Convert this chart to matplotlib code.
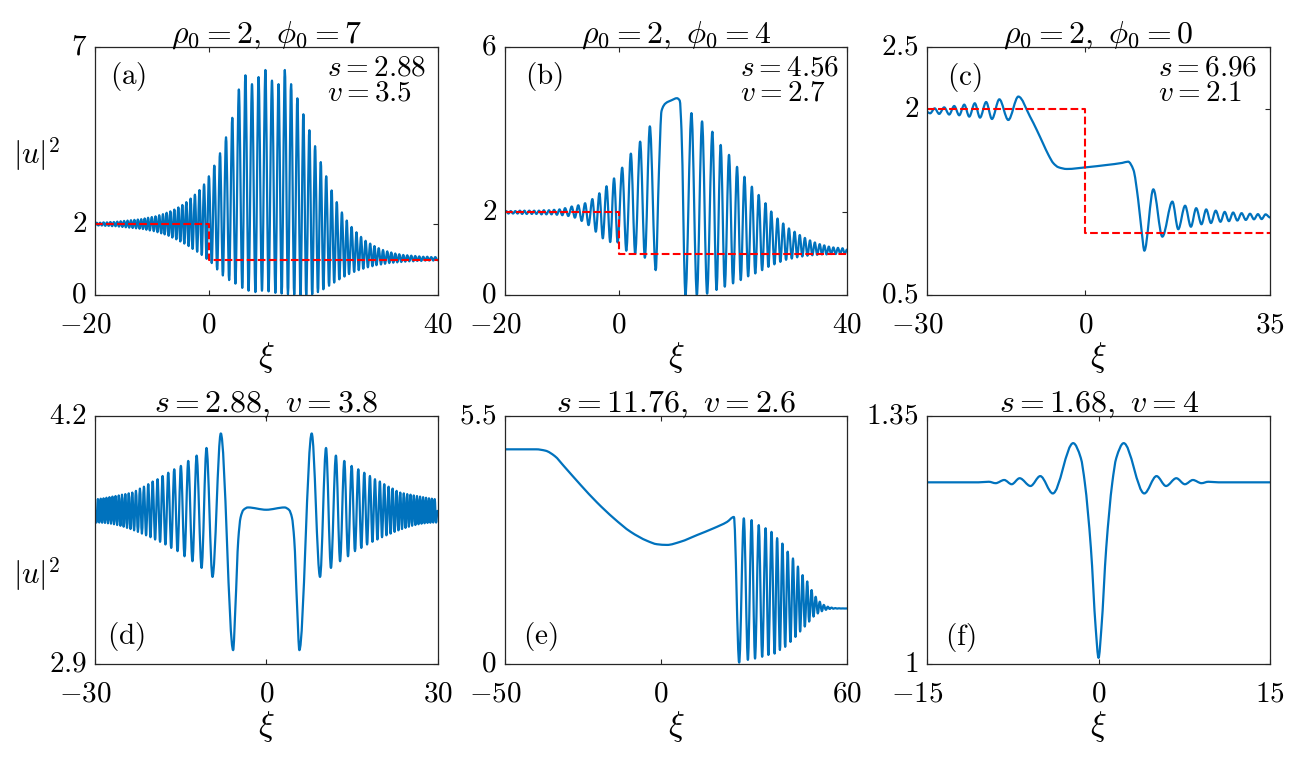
import numpy as np
import matplotlib
matplotlib.use('Agg')
import matplotlib.pyplot as plt
import matplotlib.transforms as mtransforms
from matplotlib.path import Path
from matplotlib.patches import PathPatch

plt.rcParams['mathtext.fontset'] = 'cm'
plt.rcParams['font.family'] = ['DejaVu Serif']

# ---- curve extrema / turning points (xi, |u|^2) ----
a_curve = np.array([
    (-20.0, 1.96), (-19.7, 2.04), (-19.4, 1.96), (-19.1, 2.04), (-18.8, 1.96), (-18.5, 2.05),
    (-18.2, 1.95), (-17.9, 2.05), (-17.6, 1.95), (-17.3, 2.06), (-17.0, 1.94), (-16.7, 2.06),
    (-16.4, 1.94), (-16.1, 2.07), (-15.8, 1.93), (-15.5, 2.08), (-15.2, 1.92), (-14.9, 2.09),
    (-14.6, 1.91), (-14.3, 2.10), (-14.0, 1.90), (-13.7, 2.11), (-13.4, 1.89), (-13.1, 2.12),
    (-12.8, 1.88), (-12.5, 2.13), (-12.2, 1.87), (-11.9, 2.14), (-11.6, 1.86), (-11.3, 2.16),
    (-11.0, 1.84), (-10.7, 2.18), (-10.4, 1.82), (-10.05, 2.20), (-9.7, 1.80), (-9.4, 2.22),
    (-9.05, 1.77), (-8.75, 2.25), (-8.4, 1.74), (-8.1, 2.28), (-7.8, 1.71), (-7.45, 2.32),
    (-7.1, 1.67), (-6.8, 2.36), (-6.45, 1.62), (-6.1, 2.41), (-5.75, 1.57), (-5.4, 2.47),
    (-5.05, 1.51), (-4.7, 2.54), (-4.35, 1.45), (-4.0, 2.62), (-3.6, 1.38), (-3.25, 2.72),
    (-2.9, 1.30), (-2.5, 2.83), (-2.1, 1.22), (-1.7, 2.96), (-1.3, 1.13), (-0.9, 3.12),
    (-0.45, 1.02), (-0.05, 3.35), (0.45, 0.90), (0.9, 3.65), (1.4, 0.72), (1.9, 4.0),
    (2.4, 0.55), (2.95, 4.45), (3.5, 0.42), (4.05, 5.0), (4.6, 0.32), (5.2, 5.8),
    (5.8, 0.20), (6.35, 6.2), (6.9, 0.12), (7.5, 5.95), (8.1, 0.08), (8.65, 6.15),
    (9.25, 0.12), (9.85, 6.35), (10.4, 0.10), (11.0, 6.05), (11.6, 0.06), (12.15, 5.95),
    (12.7, 0.04), (13.25, 6.35), (13.8, 0.02), (14.35, 5.95), (14.9, 0.01), (15.45, 5.55),
    (16.0, 0.0), (16.5, 5.1), (17.0, 0.0), (17.55, 4.65), (18.05, 0.02), (18.55, 4.2),
    (19.05, 0.08), (19.55, 3.75), (20.0, 0.16), (20.5, 3.35), (21.0, 0.26), (21.45, 2.95),
    (21.9, 0.35), (22.35, 2.62), (22.8, 0.44), (23.25, 2.33), (23.7, 0.52), (24.1, 2.10),
    (24.5, 0.59), (24.95, 1.92), (25.4, 0.65), (25.8, 1.77), (26.2, 0.70), (26.6, 1.64),
    (27.0, 0.74), (27.4, 1.53), (27.8, 0.78), (28.2, 1.45), (28.6, 0.81), (28.95, 1.38),
    (29.3, 0.84), (29.7, 1.32), (30.1, 0.86), (30.45, 1.27), (30.8, 0.88), (31.2, 1.23),
    (31.55, 0.90), (31.9, 1.20), (32.25, 0.91), (32.6, 1.17), (32.95, 0.92), (33.3, 1.15),
    (33.65, 0.93), (34.0, 1.13), (34.35, 0.94), (34.7, 1.12), (35.05, 0.95), (35.4, 1.11),
    (35.75, 0.95), (36.1, 1.10), (36.45, 0.96), (36.8, 1.09), (37.15, 0.96), (37.5, 1.08),
    (37.85, 0.97), (38.2, 1.08), (38.55, 0.97), (38.9, 1.07), (39.25, 0.97), (39.6, 1.07),
    (40.0, 0.98)])

b_curve = np.array([
    (-20.0, 2.0), (-19.8, 2.03), (-19.4, 1.97), (-19.0, 2.03), (-18.6, 1.97), (-18.2, 2.03),
    (-17.8, 1.97), (-17.4, 2.04), (-17.0, 1.96), (-16.6, 2.04), (-16.2, 1.96), (-15.75, 2.04),
    (-15.3, 1.96), (-14.9, 2.04), (-14.5, 1.96), (-14.05, 2.04), (-13.6, 1.95), (-13.2, 2.05),
    (-12.75, 1.95), (-12.3, 2.05), (-11.85, 1.95), (-11.4, 2.06), (-10.9, 1.94), (-10.45, 2.07),
    (-9.95, 1.93), (-9.47, 2.10), (-8.9, 1.91), (-8.3, 2.14), (-7.75, 1.87), (-7.15, 2.17),
    (-6.55, 1.79), (-5.96, 2.22), (-5.35, 1.69), (-4.68, 2.32), (-4.08, 1.53), (-3.45, 2.46),
    (-2.85, 1.37), (-2.2, 2.63), (-1.55, 1.28), (-0.88, 2.82), (-0.25, 1.27), (0.55, 3.08),
    (1.27, 1.07), (2.07, 3.42), (2.83, 1.0), (3.7, 3.71), (4.53, 0.90), (5.4, 4.08),
    (6.43, 0.60), (7.0, 3.0), (7.45, 4.45), (8.2, 4.64), (9.2, 4.71), (10.15, 4.76),
    (10.65, 4.70), (10.95, 4.0), (11.65, 0.0), (12.7, 4.4), (13.65, 0.0), (14.56, 4.2),
    (15.45, 0.03), (16.37, 3.95), (17.1, 0.12), (17.83, 3.63), (18.55, 0.20), (19.29, 3.39),
    (20.0, 0.28), (20.7, 3.10), (21.35, 0.36), (22.0, 2.86), (22.65, 0.45), (23.3, 2.62),
    (23.9, 0.52), (24.5, 2.42), (25.1, 0.60), (25.7, 2.22), (26.2, 0.68), (26.7, 2.02),
    (27.25, 0.74), (27.8, 1.85), (28.3, 0.80), (28.8, 1.73), (29.3, 0.85), (29.8, 1.61),
    (30.3, 0.88), (30.8, 1.53), (31.25, 0.91), (31.7, 1.45), (32.15, 0.93), (32.6, 1.38),
    (33.05, 0.95), (33.5, 1.32), (33.9, 0.96), (34.35, 1.27), (34.75, 0.97), (35.2, 1.23),
    (35.6, 0.98), (36.0, 1.20), (36.4, 0.98), (36.8, 1.17), (37.2, 0.99), (37.6, 1.15),
    (38.0, 0.99), (38.4, 1.14), (38.8, 1.0), (39.2, 1.13), (39.6, 1.0), (40.0, 1.10)])

c_curve = np.array([
    (-30.0, 1.975), (-29.4, 1.965), (-28.55, 2.005), (-27.7, 1.96), (-26.75, 2.013),
    (-25.8, 1.955), (-24.85, 2.024), (-23.9, 1.949), (-22.95, 2.035), (-22.0, 1.938),
    (-20.95, 2.046), (-19.96, 1.93), (-18.8, 2.056), (-17.7, 1.919), (-16.3, 2.078),
    (-14.6, 1.911), (-12.7, 2.10), (-10.5, 1.94), (-9.2, 1.83), (-8.0, 1.72), (-7.0, 1.63),
    (-6.05, 1.562), (-5.1, 1.53), (-3.5, 1.516), (0.25, 1.53), (4.0, 1.548), (7.0, 1.565),
    (8.1, 1.575), (9.1, 1.51), (10.0, 1.27), (10.7, 1.0), (11.18, 0.857), (12.88, 1.352),
    (14.59, 0.97), (16.49, 1.253), (17.6, 1.03), (18.9, 1.22), (20.0, 1.05), (21.0, 1.20),
    (22.0, 1.07), (22.9, 1.19), (23.8, 1.08), (24.7, 1.18), (25.6, 1.09), (26.4, 1.17),
    (27.2, 1.095), (28.0, 1.165), (28.8, 1.10), (29.6, 1.16), (30.4, 1.105), (31.2, 1.155),
    (31.95, 1.11), (32.7, 1.152), (33.4, 1.112), (34.15, 1.15), (35.0, 1.125)])

d_curve = np.array([
    (-30.0, 3.70), (-29.75, 3.639), (-29.5, 3.762), (-29.25, 3.639), (-29.0, 3.764),
    (-28.75, 3.638), (-28.5, 3.766), (-28.25, 3.637), (-27.99, 3.769), (-27.73, 3.635),
    (-27.47, 3.772), (-27.2, 3.633), (-26.94, 3.775), (-26.67, 3.630), (-26.4, 3.778),
    (-26.12, 3.626), (-25.84, 3.781), (-25.55, 3.622), (-25.27, 3.785), (-24.98, 3.617),
    (-24.69, 3.788), (-24.39, 3.611), (-24.09, 3.792), (-23.78, 3.605), (-23.47, 3.796),
    (-23.15, 3.598), (-22.83, 3.805), (-22.48, 3.590), (-22.13, 3.817), (-21.78, 3.581),
    (-21.43, 3.827), (-21.05, 3.572), (-20.67, 3.840), (-20.28, 3.562), (-19.9, 3.854),
    (-19.47, 3.550), (-19.04, 3.866), (-18.6, 3.538), (-18.16, 3.883), (-17.66, 3.524),
    (-17.17, 3.900), (-16.65, 3.506), (-16.12, 3.918), (-15.54, 3.489), (-14.96, 3.936),
    (-14.32, 3.462), (-13.67, 3.962), (-12.93, 3.436), (-12.2, 3.990), (-11.33, 3.401),
    (-10.47, 4.030), (-9.42, 3.354), (-7.96, 4.106), (-5.8, 2.97), (-5.4, 3.20),
    (-4.9, 3.55), (-4.5, 3.665), (-4.0, 3.705), (-3.2, 3.718), (0.0, 3.706),
    (3.2, 3.718), (4.0, 3.705), (4.5, 3.665), (4.9, 3.55), (5.4, 3.20), (5.8, 2.97),
    (7.96, 4.106), (9.42, 3.354), (10.47, 4.030), (11.33, 3.401), (12.2, 3.990),
    (12.93, 3.436), (13.67, 3.962), (14.32, 3.462), (14.96, 3.936), (15.54, 3.489),
    (16.12, 3.918), (16.65, 3.506), (17.17, 3.900), (17.66, 3.524), (18.16, 3.883),
    (18.6, 3.538), (19.04, 3.866), (19.47, 3.550), (19.9, 3.854), (20.28, 3.562),
    (20.67, 3.840), (21.05, 3.572), (21.43, 3.827), (21.78, 3.581), (22.13, 3.817),
    (22.48, 3.590), (22.83, 3.805), (23.15, 3.598), (23.47, 3.796), (23.78, 3.605),
    (24.09, 3.792), (24.39, 3.611), (24.69, 3.788), (24.98, 3.617), (25.27, 3.785),
    (25.55, 3.622), (25.84, 3.781), (26.12, 3.626), (26.4, 3.778), (26.67, 3.630),
    (26.94, 3.775), (27.2, 3.633), (27.47, 3.772), (27.73, 3.635), (27.99, 3.769),
    (28.25, 3.637), (28.5, 3.766), (28.75, 3.638), (29.0, 3.764), (29.25, 3.639),
    (29.5, 3.762), (29.75, 3.639), (30.0, 3.70)])

e_curve = np.array([
    (-50.0, 4.75), (-40.0, 4.75), (-37.0, 4.72), (-34.0, 4.60), (-31.1, 4.38), (-25.7, 3.96),
    (-20.4, 3.57), (-15.0, 3.22), (-9.6, 2.92), (-4.3, 2.72), (-1.1, 2.645), (2.1, 2.63),
    (6.4, 2.70), (11.8, 2.85), (17.1, 3.0), (21.4, 3.14), (23.6, 3.25), (25.3, 0.02),
    (26.8, 3.22), (28.1, 0.08), (29.3, 3.18), (30.4, 0.11), (31.6, 3.07), (32.7, 0.15),
    (33.8, 3.0), (34.7, 0.19), (35.7, 2.92), (36.7, 0.22), (37.5, 2.78), (38.4, 0.30),
    (39.2, 2.66), (40.1, 0.37), (40.9, 2.48), (41.8, 0.48), (42.6, 2.33), (43.4, 0.59),
    (44.2, 2.15), (44.9, 0.71), (45.7, 1.96), (46.4, 0.82), (47.2, 1.82), (47.8, 0.93),
    (48.6, 1.63), (49.2, 1.04), (49.9, 1.48), (50.6, 1.11), (51.2, 1.37), (51.9, 1.16),
    (52.5, 1.30), (53.2, 1.19), (53.8, 1.26), (54.4, 1.21), (55.0, 1.24), (55.6, 1.215),
    (56.2, 1.23), (56.8, 1.218), (57.4, 1.225), (58.0, 1.22), (58.6, 1.222), (59.2, 1.22),
    (60.0, 1.221)])

f_curve = np.array([
    (-15.0, 1.2557), (-10.5, 1.2557), (-9.6, 1.2565), (-9.0, 1.2545), (-8.25, 1.259),
    (-7.6, 1.253), (-6.9, 1.2615), (-5.95, 1.2505), (-5.1, 1.2645), (-4.0, 1.240),
    (-2.22, 1.311), (-1.55, 1.290), (-1.2, 1.255), (-0.67, 1.163), (-0.25, 1.050),
    (0.0, 1.008), (0.25, 1.050), (0.67, 1.163), (1.2, 1.255), (1.55, 1.290), (2.2, 1.311),
    (4.0, 1.240), (5.07, 1.2645), (5.9, 1.2505), (6.8, 1.2615), (7.55, 1.253), (8.25, 1.259),
    (9.0, 1.2545), (9.6, 1.2565), (10.5, 1.2557), (15.0, 1.2557)])

# red dashed initial step profiles
ab_step_x = [-20, 0, 0, 40]
a_step_y = [2, 2, 1, 1]
b_step_y = [2, 2, 1, 1]
c_step_x = [-30, 0, 0, 35]
c_step_y = [2, 2, 1, 1]

curves = [a_curve, b_curve, c_curve, d_curve, e_curve, f_curve]
xlims = [(-20, 40), (-20, 40), (-30, 35), (-30, 30), (-50, 60), (-15, 15)]
ylims = [(0, 7), (0, 6), (0.5, 2.5), (2.9, 4.2), (0, 5.5), (1, 1.35)]
xticks = [[-20, 0, 40], [-20, 0, 40], [-30, 0, 35], [-30, 0, 30], [-50, 0, 60], [-15, 0, 15]]
yticks = [[0, 2, 7], [0, 2, 6], [0.5, 2, 2.5], [2.9, 4.2], [0, 5.5], [1, 1.35]]
titles = [r'$\rho_0=2,\ \phi_0=7$', r'$\rho_0=2,\ \phi_0=4$', r'$\rho_0=2,\ \phi_0=0$',
          r'$s=2.88,\ v=3.8$', r'$s=11.76,\ v=2.6$', r'$s=1.68,\ v=4$']
tags = ['(a)', '(b)', '(c)', '(d)', '(e)', '(f)']
s_text = [r'$s=2.88$', r'$s=4.56$', r'$s=6.96$']
v_text = [r'$v=3.5$', r'$v=2.7$', r'$v=2.1$']

blue = '#0072BD'
frame = '#262626'


def smooth_path(pts):
    # shape-preserving cubic through the read points, drawn as bezier segments
    x = pts[:, 0]
    y = pts[:, 1]
    h = np.diff(x)
    d = np.diff(y) / h
    m = np.zeros(len(x))
    for k in range(1, len(x) - 1):
        if d[k - 1] * d[k] > 0:
            w1 = 2 * h[k] + h[k - 1]
            w2 = h[k] + 2 * h[k - 1]
            m[k] = (w1 + w2) / (w1 / d[k - 1] + w2 / d[k])
    verts = [(x[0], y[0])]
    codes = [Path.MOVETO]
    for k in range(len(h)):
        verts.append((x[k] + h[k] / 3, y[k] + m[k] * h[k] / 3))
        verts.append((x[k + 1] - h[k] / 3, y[k + 1] - m[k + 1] * h[k] / 3))
        verts.append((x[k + 1], y[k + 1]))
        codes += [Path.CURVE4] * 3
    return Path(verts, codes)


fig = plt.figure(figsize=(12.96, 7.61), dpi=100)

lefts = [0.0733, 0.3897, 0.7153]
widths = [0.2643, 0.2639, 0.2647]
bottoms = [0.6124, 0.1281]
height = 0.3259

# negative tick labels sit a little left of their tick in the original
neg_shift = mtransforms.ScaledTranslation(-10 / 100, 0, fig.dpi_scale_trans)

axes = []
for i in range(6):
    r, c = divmod(i, 3)
    ax = fig.add_axes([lefts[c], bottoms[r], widths[c], height])
    axes.append(ax)
    ax.add_patch(PathPatch(smooth_path(curves[i]), fill=False, edgecolor=blue,
                           lw=1.6, joinstyle='round', capstyle='round'))
    ax.set_xlim(xlims[i])
    ax.set_ylim(ylims[i])
    ax.set_xticks(xticks[i])
    ax.set_xticklabels(['$%g$' % t for t in xticks[i]])
    ax.set_yticks(yticks[i])
    ax.set_yticklabels(['$%g$' % t for t in yticks[i]])
    ax.tick_params(direction='in', length=3.6, width=0.8, color=frame, labelsize=21,
                   top=True, right=True)
    ax.tick_params(axis='x', pad=11.5)
    ax.tick_params(axis='y', pad=6)
    for lab, t in zip(ax.get_xticklabels(), xticks[i]):
        if t < 0:
            lab.set_transform(lab.get_transform() + neg_shift)
    for lab in ax.get_yticklabels():
        lab.set_verticalalignment('center')
    for sp in ax.spines.values():
        sp.set_color(frame)
        sp.set_linewidth(0.9)
    ax.set_title(titles[i], fontsize=23, pad=3)
    ax.set_xlabel(r'$\xi$', fontsize=24, labelpad=1)

axes[0].plot(ab_step_x, a_step_y, 'r--', lw=1.5)
axes[1].plot(ab_step_x, b_step_y, 'r--', lw=1.5)
axes[2].plot(c_step_x, c_step_y, 'r--', lw=1.5)

tag_pos = [(0.044, 0.881), (0.058, 0.880), (0.057, 0.877),
           (0.034, 0.109), (0.053, 0.109), (0.052, 0.105)]
for i in range(6):
    axes[i].text(tag_pos[i][0], tag_pos[i][1], r'$\mathrm{%s}$' % tags[i],
                 transform=axes[i].transAxes, fontsize=21, ha='left', va='center')

sv_x = [0.678, 0.686, 0.674]
for i in range(3):
    axes[i].text(sv_x[i], 0.918, s_text[i], transform=axes[i].transAxes,
                 fontsize=21, ha='left', va='center')
    axes[i].text(sv_x[i], 0.815, v_text[i], transform=axes[i].transAxes,
                 fontsize=21, ha='left', va='center')

ylab_y = [0.57, 0.36]
for ax, yy in zip((axes[0], axes[3]), ylab_y):
    ax.set_ylabel(r'$|u|^2$', fontsize=22, rotation=0, ha='center', va='center')
    ax.yaxis.set_label_coords(-0.17, yy)

fig.savefig('out.png', dpi=100)
